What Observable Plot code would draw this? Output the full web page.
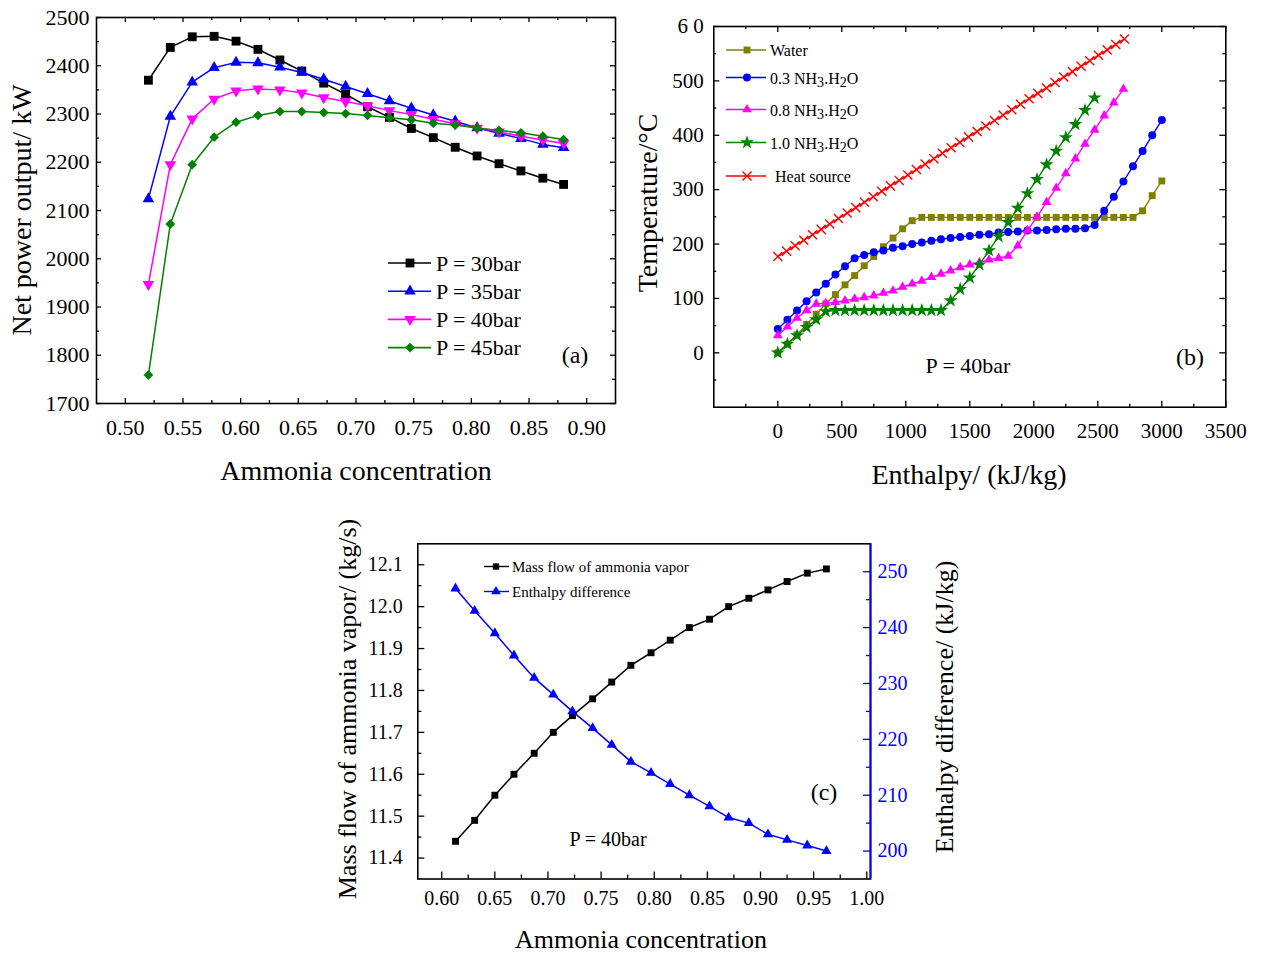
<!DOCTYPE html>
<html lang="en"><head><meta charset="utf-8"><title>Ammonia-water cycle performance</title>
<script src="https://cdn.jsdelivr.net/npm/d3@7"></script>
<script src="https://cdn.jsdelivr.net/npm/@observablehq/plot@0.6"></script>
<style>
html,body{margin:0;padding:0;background:#fff;}
#page{position:relative;width:1262px;height:955px;overflow:hidden;background:#fff;font-family:"Liberation Serif","Times New Roman",serif;}
.panel{position:absolute;}
.panel svg{position:absolute;left:0;top:0;}
.ttl{position:absolute;white-space:nowrap;line-height:1;color:#000;font-family:"Liberation Serif","Times New Roman",serif;}
</style></head><body>
<div id="page"></div>
<script>
// ================= DATA =================
// (a) Net power output vs ammonia concentration
const concA = [0.520,0.539,0.558,0.577,0.596,0.615,0.634,0.653,0.672,0.691,0.710,0.729,0.748,0.767,0.786,0.805,0.824,0.843,0.862,0.880];
const power30 = [2370,2438,2460,2461,2451,2434,2412,2389,2364,2341,2315,2293,2270,2251,2231,2213,2197,2182,2167,2154];
const power35 = [2124,2295,2366,2396,2407,2406,2397,2386,2372,2357,2342,2327,2312,2298,2285,2271,2260,2249,2237,2230];
const power40 = [1947,2195,2290,2331,2348,2352,2350,2344,2334,2326,2317,2307,2299,2289,2280,2271,2263,2254,2246,2239];
const power45 = [1759,2072,2195,2252,2283,2297,2305,2305,2303,2301,2297,2292,2288,2281,2277,2271,2266,2261,2254,2247];
const labelsA = ["P = 30bar","P = 35bar","P = 40bar","P = 45bar"];
const xTicksA = [0.50,0.55,0.60,0.65,0.70,0.75,0.80,0.85,0.90];
const xMinorA = [0.525,0.575,0.625,0.675,0.725,0.775,0.825,0.875];
const yTicksA = [1700,1800,1900,2000,2100,2200,2300,2400,2500];
const yMinorA = [1750,1850,1950,2050,2150,2250,2350,2450];

// (b) Temperature vs enthalpy
const enthalpyStep = [0,75,150,225,300,375,450,525,600,675,750,825,900,975,1050,1125,1200,1275,1350,1425,1500,1575,1650,1725,1800,1875,1950,2025,2100,2175,2250,2325,2400,2475,2550,2625,2700,2775,2850,2925,3000];
const tempWater = [0,16,33,52,71,90,107,125,142,160,177,195,211,228,243,249,249,249,249,249,249,249,249,249,249,249,249,249,249,249,249,249,249,249,249,249,249,249,261,289,316];
const temp03 = [44,61,78,95,111,127,144,159,174,180,185,188,193,196,200,203,206,209,211,213,215,217,218,221,222,223,225,225,226,227,228,228,229,235,261,287,315,343,371,400,428];
const temp08 = [32,48,64,78,90,91,93,96,99,102,105,110,114,121,127,132,139,145,151,157,162,166,171,174,178,197,225,250,277,303,330,357,384,410,436,460,485];
const temp10 = [0,16,32,47,61,76,78,78,78,78,78,78,78,78,78,78,78,78,96,117,138,162,188,214,240,266,293,319,346,371,396,420,446,469];
const heatEnthalpy = [0,68,135,203,271,339,406,474,542,609,677,745,812,880,948,1016,1083,1151,1219,1286,1354,1422,1489,1557,1625,1693,1760,1828,1896,1963,2031,2099,2166,2234,2302,2370,2437,2505,2573,2640,2708];
const heatTemp = [177,187,197,207,217,227,237,247,257,267,277,287,297,307,317,327,337,347,357,367,377,387,397,407,417,427,437,447,457,467,477,487,497,507,517,527,537,547,557,567,577];
const xTicksB = [0,500,1000,1500,2000,2500,3000,3500];
const xMinorB = [-250,250,750,1250,1750,2250,2750,3250];
const yTicksB = [0,100,200,300,400,500,600];
const yMinorB = [-50,50,150,250,350,450,550];

// (c) Mass flow & enthalpy difference vs ammonia concentration
const concC = [0.613,0.631,0.650,0.668,0.687,0.705,0.723,0.742,0.760,0.778,0.797,0.815,0.833,0.852,0.870,0.889,0.907,0.925,0.944,0.962];
const massFlow = [11.44,11.49,11.55,11.60,11.65,11.70,11.74,11.78,11.82,11.86,11.89,11.92,11.95,11.97,12.00,12.02,12.04,12.06,12.08,12.09];
const enthalpyDiff = [247,243,239,235,231,228,225,222,219,216,214,212,210,208,206,205,203,202,201,200];
const xTicksC = [0.60,0.65,0.70,0.75,0.80,0.85,0.90,0.95,1.00];
const xMinorC = [0.625,0.675,0.725,0.775,0.825,0.875,0.925,0.975];
const yTicksC = [11.4,11.5,11.6,11.7,11.8,11.9,12.0,12.1];
const yMinorC = [11.45,11.55,11.65,11.75,11.85,11.95,12.05];
const y2TicksC = [200,210,220,230,240,250];
const y2MinorC = [205,215,225,235,245];

// ================= HELPERS =================
const serif = '"Liberation Serif","Times New Roman",serif';
const page = document.getElementById("page");
const baseStyle = {fontFamily: serif, background: "none", overflow: "visible", color: "black"};

const triangleDown = {
  draw(context, size) {
    const s3 = Math.sqrt(3);
    const y = Math.sqrt(size / (s3 * 3));
    context.moveTo(0, y * 2);
    context.lineTo(-s3 * y, -y);
    context.lineTo(s3 * y, -y);
    context.closePath();
  }
};
const d3Sym = {square: d3.symbolSquare, triangle: d3.symbolTriangle, circle: d3.symbolCircle,
  diamond2: d3.symbolDiamond2, star: d3.symbolStar, times: d3.symbolTimes};
function symType(s) { return typeof s === "string" ? d3Sym[s] : s; }

function inTicks(side, vals, len, fw, fh, stroke = "black", sw = 1.3) {
  const o = {stroke, strokeWidth: sw};
  if (side === "bottom") return Plot.ruleX(vals, {x: d => d, insetTop: fh - len, ...o});
  if (side === "top") return Plot.ruleX(vals, {x: d => d, insetBottom: fh - len, ...o});
  if (side === "left") return Plot.ruleY(vals, {y: d => d, insetRight: fw - len, ...o});
  return Plot.ruleY(vals, {y: d => d, insetLeft: fw - len, ...o});
}
function panel(left, top, w, h) {
  const d = document.createElement("div");
  d.className = "panel";
  Object.assign(d.style, {left: left + "px", top: top + "px", width: w + "px", height: h + "px"});
  page.appendChild(d);
  return d;
}
function title(text, cx, cy, size, rot) {
  const d = document.createElement("div");
  d.className = "ttl";
  d.textContent = text;
  Object.assign(d.style, {left: cx + "px", top: cy + "px", fontSize: size + "px",
    transform: "translate(-50%,-50%)" + (rot ? " rotate(-90deg)" : "")});
  page.appendChild(d);
}
function addText(svg, segs, x, y, size, anchor = "start", color = "black") {
  const t = d3.select(svg).append("text").attr("x", x).attr("y", y)
    .attr("font-family", serif).attr("font-size", size).attr("fill", color)
    .attr("text-anchor", anchor).attr("dominant-baseline", "central");
  if (typeof segs === "string") { t.text(segs); return t; }
  let sub = false;
  for (const s of segs) {
    const ts = t.append("tspan").text(s.t);
    if (s.sub && !sub) { ts.attr("dy", size * 0.3).attr("font-size", size * 0.88); sub = true; }
    else if (!s.sub && sub) { ts.attr("dy", -size * 0.3); sub = false; }
    else if (s.sub) ts.attr("font-size", size * 0.88);
  }
  return t;
}
function legend(svg, items, {x0, x1, xm, xt, size, sw}) {
  const g = d3.select(svg).append("g");
  for (const it of items) {
    g.append("line").attr("x1", x0).attr("x2", x1).attr("y1", it.y).attr("y2", it.y)
      .attr("stroke", it.color).attr("stroke-width", sw);
    const p = d3.symbol(symType(it.symbol), Math.PI * it.r * it.r)();
    const stroked = it.symbol === "times";
    g.append("path").attr("d", p).attr("transform", `translate(${xm},${it.y})`)
      .attr("fill", stroked ? "none" : it.color).attr("stroke", stroked ? it.color : "none")
      .attr("stroke-width", stroked ? 1.4 : 0);
    addText(svg, it.label, (it.xt ?? xt), it.y, size);
  }
}
function seriesMarks(xs, ys, color, symbol, r, sw = 1.5) {
  const rows = ys.map((y, i) => ({x: xs[i], y}));
  const stroked = symbol === "times";
  return [
    Plot.line(rows, {x: "x", y: "y", stroke: color, strokeWidth: sw}),
    Plot.dot(rows, {x: "x", y: "y", symbol, r, fill: stroked ? "none" : color,
      stroke: stroked ? color : "none", strokeWidth: stroked ? 1.4 : 0})
  ];
}

// ================= PANEL (a) =================
{
  const W = 640, H = 440, ml = 96, mr = 25, mt = 17, mb = 37;
  const fw = W - ml - mr, fh = H - mt - mb;
  const seriesA = [
    {label: labelsA[0], ys: power30, color: "#000000", symbol: "square", r: 5},
    {label: labelsA[1], ys: power35, color: "#0000ff", symbol: "triangle", r: 4.3},
    {label: labelsA[2], ys: power40, color: "#ff00ff", symbol: triangleDown, r: 4.3},
    {label: labelsA[3], ys: power45, color: "#008000", symbol: "diamond2", r: 4.4}
  ];
  const svg = Plot.plot({
    width: W, height: H, marginLeft: ml, marginRight: mr, marginTop: mt, marginBottom: mb,
    x: {domain: [0.475, 0.925]}, y: {domain: [1700, 2500]},
    style: baseStyle,
    marks: [
      inTicks("bottom", xTicksA, 5, fw, fh), inTicks("top", xTicksA, 5, fw, fh),
      inTicks("bottom", xMinorA, 3, fw, fh), inTicks("top", xMinorA, 3, fw, fh),
      inTicks("left", yTicksA, 5, fw, fh), inTicks("right", yTicksA, 5, fw, fh),
      inTicks("left", yMinorA, 3, fw, fh), inTicks("right", yMinorA, 3, fw, fh),
      Plot.frame({stroke: "black", strokeWidth: 1.6}),
      Plot.axisX({ticks: xTicksA, tickSize: 0, tickPadding: 16, fontSize: 22, label: null, tickFormat: d3.format(".2f")}),
      Plot.axisY({ticks: yTicksA, tickSize: 0, tickPadding: 7, fontSize: 22, label: null, tickFormat: d => String(d)}),
      ...seriesA.flatMap(s => seriesMarks(concA, s.ys, s.color, s.symbol, s.r))
    ]
  });
  panel(0, 0, W, H).appendChild(svg);
  legend(svg, seriesA.map((s, i) => ({...s, y: 263 + i * 28.2})), {x0: 388, x1: 431, xm: 410, xt: 436, size: 22, sw: 1.6});
  addText(svg, "(a)", 575, 355, 24, "middle");
  title("Net power output/ kW", 22, 210, 28, true);
  title("Ammonia concentration", 356, 471, 28, false);
}

// ================= PANEL (b) =================
{
  const L = 630, W = 632, H = 450, ml = 83.3, mr = 36.7, mt = 26, mb = 43.3;
  const fw = W - ml - mr, fh = H - mt - mb;
  const seriesB = [
    {label: "Water", xs: enthalpyStep, ys: tempWater, color: "#808000", symbol: "square", r: 3.9},
    {label: [{t: "0.3 NH"}, {t: "3", sub: true}, {t: ".H"}, {t: "2", sub: true}, {t: "O"}], xs: enthalpyStep, ys: temp03, color: "#0000ff", symbol: "circle", r: 4},
    {label: [{t: "0.8 NH"}, {t: "3", sub: true}, {t: ".H"}, {t: "2", sub: true}, {t: "O"}], xs: enthalpyStep, ys: temp08, color: "#ff00ff", symbol: "triangle", r: 3.6},
    {label: [{t: "1.0 NH"}, {t: "3", sub: true}, {t: ".H"}, {t: "2", sub: true}, {t: "O"}], xs: enthalpyStep, ys: temp10, color: "#008000", symbol: "star", r: 4.4},
    {label: "Heat source", xs: heatEnthalpy, ys: heatTemp, color: "#ff0000", symbol: "times", r: 4.2, xt: 775 - L}
  ];
  const svg = Plot.plot({
    width: W, height: H, marginLeft: ml, marginRight: mr, marginTop: mt, marginBottom: mb,
    x: {domain: [-500, 3500]}, y: {domain: [-100, 600]},
    style: baseStyle,
    marks: [
      inTicks("bottom", xTicksB, 6, fw, fh), inTicks("top", xTicksB, 6, fw, fh),
      inTicks("bottom", xMinorB, 3, fw, fh), inTicks("top", xMinorB, 3, fw, fh),
      inTicks("left", yTicksB, 6, fw, fh), inTicks("right", yTicksB, 6, fw, fh),
      inTicks("left", yMinorB, 3, fw, fh), inTicks("right", yMinorB, 3, fw, fh),
      Plot.frame({stroke: "black", strokeWidth: 1.6}),
      Plot.axisX({ticks: xTicksB, tickSize: 0, tickPadding: 16, fontSize: 21, label: null, tickFormat: d => String(d)}),
      Plot.axisY({ticks: yTicksB, tickSize: 0, tickPadding: 10, fontSize: 21, label: null, tickFormat: d => d === 600 ? "6 0" : String(d)}),
      ...seriesB.flatMap(s => seriesMarks(s.xs, s.ys, s.color, s.symbol, s.r, 1.4))
    ]
  });
  panel(L, 0, W, H).appendChild(svg);
  const ys = [50, 77.5, 109.5, 142.5, 176];
  legend(svg, seriesB.map((s, i) => ({...s, y: ys[i]})), {x0: 726 - L, x1: 766 - L, xm: 747 - L, xt: 770 - L, size: 16, sw: 1.5});
  addText(svg, "P = 40bar", 968 - L, 365, 22, "middle");
  addText(svg, "(b)", 1190 - L, 357, 24, "middle");
  title("Temperature/°C", 648, 203, 28, true);
  title("Enthalpy/ (kJ/kg)", 969, 475, 28, false);
}

// ================= PANEL (c) =================
{
  const L = 330, T = 520, W = 620, H = 410, ml = 87.3, mr = 80, mt = 23.3, mb = 51.5;
  const fw = W - ml - mr, fh = H - mt - mb;
  const xDomC = [0.5775, 1.0035];
  const common = {width: W, height: H, marginLeft: ml, marginRight: mr, marginTop: mt, marginBottom: mb, style: baseStyle};
  const svg1 = Plot.plot({
    ...common,
    x: {domain: xDomC}, y: {domain: [11.35, 12.15]},
    marks: [
      inTicks("bottom", xTicksC, 7, fw, fh), inTicks("bottom", xMinorC, 4, fw, fh),
      inTicks("left", yTicksC, 7, fw, fh), inTicks("left", yMinorC, 4, fw, fh),
      Plot.frame({stroke: "black", strokeWidth: 1.6}),
      Plot.axisX({ticks: xTicksC, tickSize: 0, tickPadding: 12, fontSize: 20, label: null, tickFormat: d3.format(".2f")}),
      Plot.axisY({ticks: yTicksC, tickSize: 0, tickPadding: 15, fontSize: 20, label: null, tickFormat: d3.format(".1f")}),
      ...seriesMarks(concC, massFlow, "#000000", "square", 3.9)
    ]
  });
  const svg2 = Plot.plot({
    ...common,
    x: {domain: xDomC, axis: null}, y: {domain: [195, 255]},
    marks: [
      inTicks("right", y2TicksC, 7, fw, fh, "#0000ff"), inTicks("right", y2MinorC, 4, fw, fh, "#0000ff"),
      Plot.ruleX([xDomC[1]], {x: d => d, stroke: "#0000ff", strokeWidth: 2}),
      Plot.axisY({anchor: "right", ticks: y2TicksC, tickSize: 0, tickPadding: 7, fontSize: 20, label: null, fill: "#0000ff", tickFormat: d => String(d)}),
      ...seriesMarks(concC, enthalpyDiff, "#0000ff", "triangle", 3.8)
    ]
  });
  const p = panel(L, T, W, H);
  p.appendChild(svg1);
  p.appendChild(svg2);
  legend(svg2, [
    {label: "Mass flow of ammonia vapor", color: "#000000", symbol: "square", r: 3.6, y: 566.5 - T},
    {label: "Enthalpy difference", color: "#0000ff", symbol: "triangle", r: 3.6, y: 591.5 - T}
  ], {x0: 484 - L, x1: 509 - L, xm: 496 - L, xt: 512 - L, size: 15, sw: 1.4});
  addText(svg2, "P = 40bar", 608 - L, 839 - T, 20, "middle");
  addText(svg2, "(c)", 824 - L, 792 - T, 24, "middle");
  title("Mass flow of ammonia vapor/ (kg/s)", 348, 709, 26, true);
  title("Enthalpy difference/ (kJ/kg)", 945, 707, 26, true);
  title("Ammonia concentration", 641, 940, 26, false);
}
</script>
</body></html>
